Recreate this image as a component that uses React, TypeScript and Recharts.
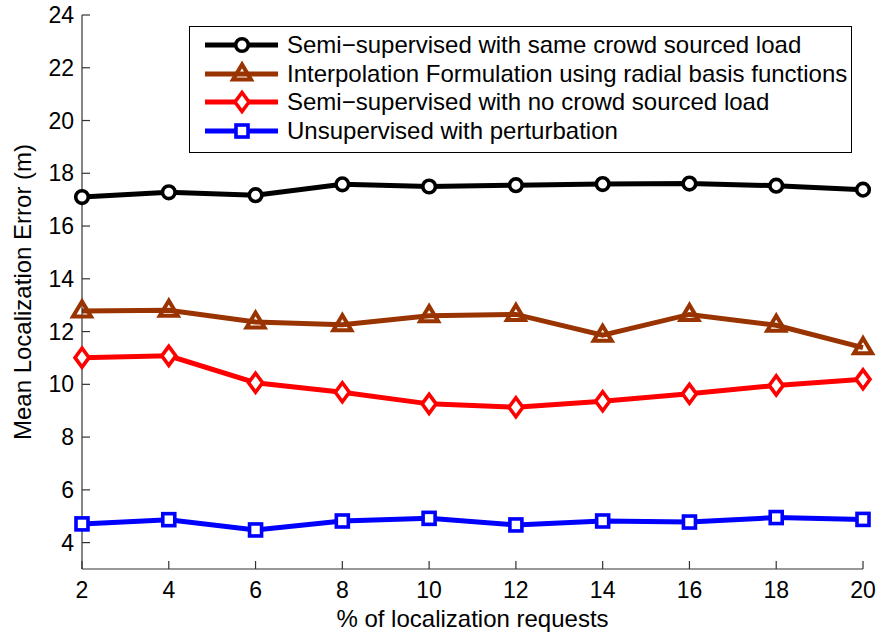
import React from 'react';
import { Legend, Line, LineChart, XAxis, YAxis } from 'recharts';

const requests = [2, 4, 6, 8, 10, 12, 14, 16, 18, 20];
const semiSameLoad = [17.1, 17.28, 17.17, 17.58, 17.5, 17.55, 17.59, 17.61, 17.53, 17.38];
const rbfInterpolation = [12.78, 12.81, 12.36, 12.26, 12.6, 12.65, 11.86, 12.65, 12.24, 11.39];
const semiNoLoad = [11.01, 11.08, 10.06, 9.7, 9.26, 9.13, 9.36, 9.64, 9.96, 10.19];
const unsupervised = [4.71, 4.87, 4.48, 4.82, 4.92, 4.67, 4.82, 4.78, 4.95, 4.88];
const yTicks = [4, 6, 8, 10, 12, 14, 16, 18, 20, 22, 24];

const seriesKeys = ['semiSame', 'rbf', 'semiNo', 'unsup'];
const seriesNames = [
  'Semi\u2212supervised with same crowd sourced load',
  'Interpolation Formulation using radial basis functions',
  'Semi\u2212supervised with no crowd sourced load',
  'Unsupervised with perturbation',
];
const seriesColors = ['#000000', '#993300', '#ff0000', '#0000ff'];
const seriesMarkers = ['circle', 'triangle', 'diamond', 'square'];

const data = requests.map((x, i) => ({
  x,
  semiSame: semiSameLoad[i],
  rbf: rbfInterpolation[i],
  semiNo: semiNoLoad[i],
  unsup: unsupervised[i],
}));

const font = '"Liberation Sans", Arial, Helvetica, sans-serif';
const axisColor = '#333';
const lineWidth = 5;

// matlab-style hollow markers, thick edges
const Marker = ({ kind, cx, cy, color }: any) => {
  const sw = 3.6;
  if (kind === 'circle') {
    return <circle cx={cx} cy={cy} r={6.3} fill='#fff' stroke={color} strokeWidth={sw} />;
  }
  if (kind === 'triangle') {
    const pts = `${cx},${cy - 9.5} ${cx - 9},${cy + 5.5} ${cx + 9},${cy + 5.5}`;
    return <polygon points={pts} fill='none' stroke={color} strokeWidth={4} strokeLinejoin='miter' />;
  }
  if (kind === 'diamond') {
    const pts = `${cx},${cy - 9.5} ${cx + 7},${cy} ${cx},${cy + 9.5} ${cx - 7},${cy}`;
    return <polygon points={pts} fill='#fff' stroke={color} strokeWidth={sw} />;
  }
  return <rect x={cx - 6} y={cy - 6} width={12} height={12} fill='#fff' stroke={color} strokeWidth={sw} />;
};

const makeDot = (kind: string, color: string) => (props: any) => {
  const { cx, cy, index } = props;
  if (cx == null || cy == null) return <g key={`dot-${kind}-${index}`} />;
  return (
    <g key={`dot-${kind}-${index}`}>
      <Marker kind={kind} cx={cx} cy={cy} color={color} />
    </g>
  );
};

const renderLegend = () => (
  <div
    style={{
      width: 661,
      height: 121,
      paddingTop: 4,
      border: '1.5px solid #000',
      background: '#fff',
      fontFamily: font,
      fontSize: 24,
      color: '#000',
    }}
  >
    {seriesNames.map((name, i) => (
      <div key={name} style={{ display: 'flex', alignItems: 'center', height: 28.6 }}>
        <svg width={92} height={28} style={{ flex: 'none' }}>
          <line x1={15} x2={88} y1={14} y2={14} stroke={seriesColors[i]} strokeWidth={lineWidth} />
          <Marker kind={seriesMarkers[i]} cx={52} cy={14} color={seriesColors[i]} />
        </svg>
        <span style={{ marginLeft: 5, whiteSpace: 'nowrap', lineHeight: '28px' }}>{name}</span>
      </div>
    ))}
  </div>
);

const App: React.FC = () => {
  return (
    <div style={{ position: 'absolute', left: 0, top: 0, background: '#fff' }}>
      <LineChart
        width={880}
        height={635}
        data={data}
        margin={{ top: 15, right: 17, left: 0, bottom: 0 }}
        style={{ fontFamily: font }}
      >
        <XAxis
          dataKey='x'
          type='number'
          domain={[2, 20]}
          ticks={requests}
          interval={0}
          height={66}
          tickSize={-8}
          tickMargin={21}
          axisLine={{ stroke: axisColor, strokeWidth: 1.2 }}
          tickLine={{ stroke: axisColor, strokeWidth: 1.2 }}
          tick={{ fontSize: 23, fill: '#000', fontFamily: font }}
          label={{
            value: '% of localization requests',
            position: 'insideBottom',
            offset: 8,
            style: { fontSize: 24, fill: '#000', fontFamily: font },
          }}
        />
        <YAxis
          type='number'
          domain={[3, 24]}
          ticks={yTicks}
          interval={0}
          width={82}
          tickSize={-8}
          tickMargin={16}
          axisLine={{ stroke: axisColor, strokeWidth: 1.2 }}
          tickLine={{ stroke: axisColor, strokeWidth: 1.2 }}
          tick={{ fontSize: 23, fill: '#000', fontFamily: font }}
          label={{
            value: 'Mean Localization Error (m)',
            angle: -90,
            position: 'insideLeft',
            offset: 22,
            style: { fontSize: 24, fill: '#000', fontFamily: font, textAnchor: 'middle' },
          }}
        />
        {seriesKeys.map((key, i) => (
          <Line
            key={key}
            dataKey={key}
            name={seriesNames[i]}
            type='linear'
            stroke={seriesColors[i]}
            strokeWidth={lineWidth}
            dot={makeDot(seriesMarkers[i], seriesColors[i])}
            activeDot={false}
            isAnimationActive={false}
          />
        ))}
        <Legend
          layout='horizontal'
          verticalAlign='middle'
          align='center'
          content={renderLegend}
          wrapperStyle={{ left: 189, top: 26, width: 'auto', height: 'auto' }}
        />
      </LineChart>
    </div>
  );
};

export default App;
